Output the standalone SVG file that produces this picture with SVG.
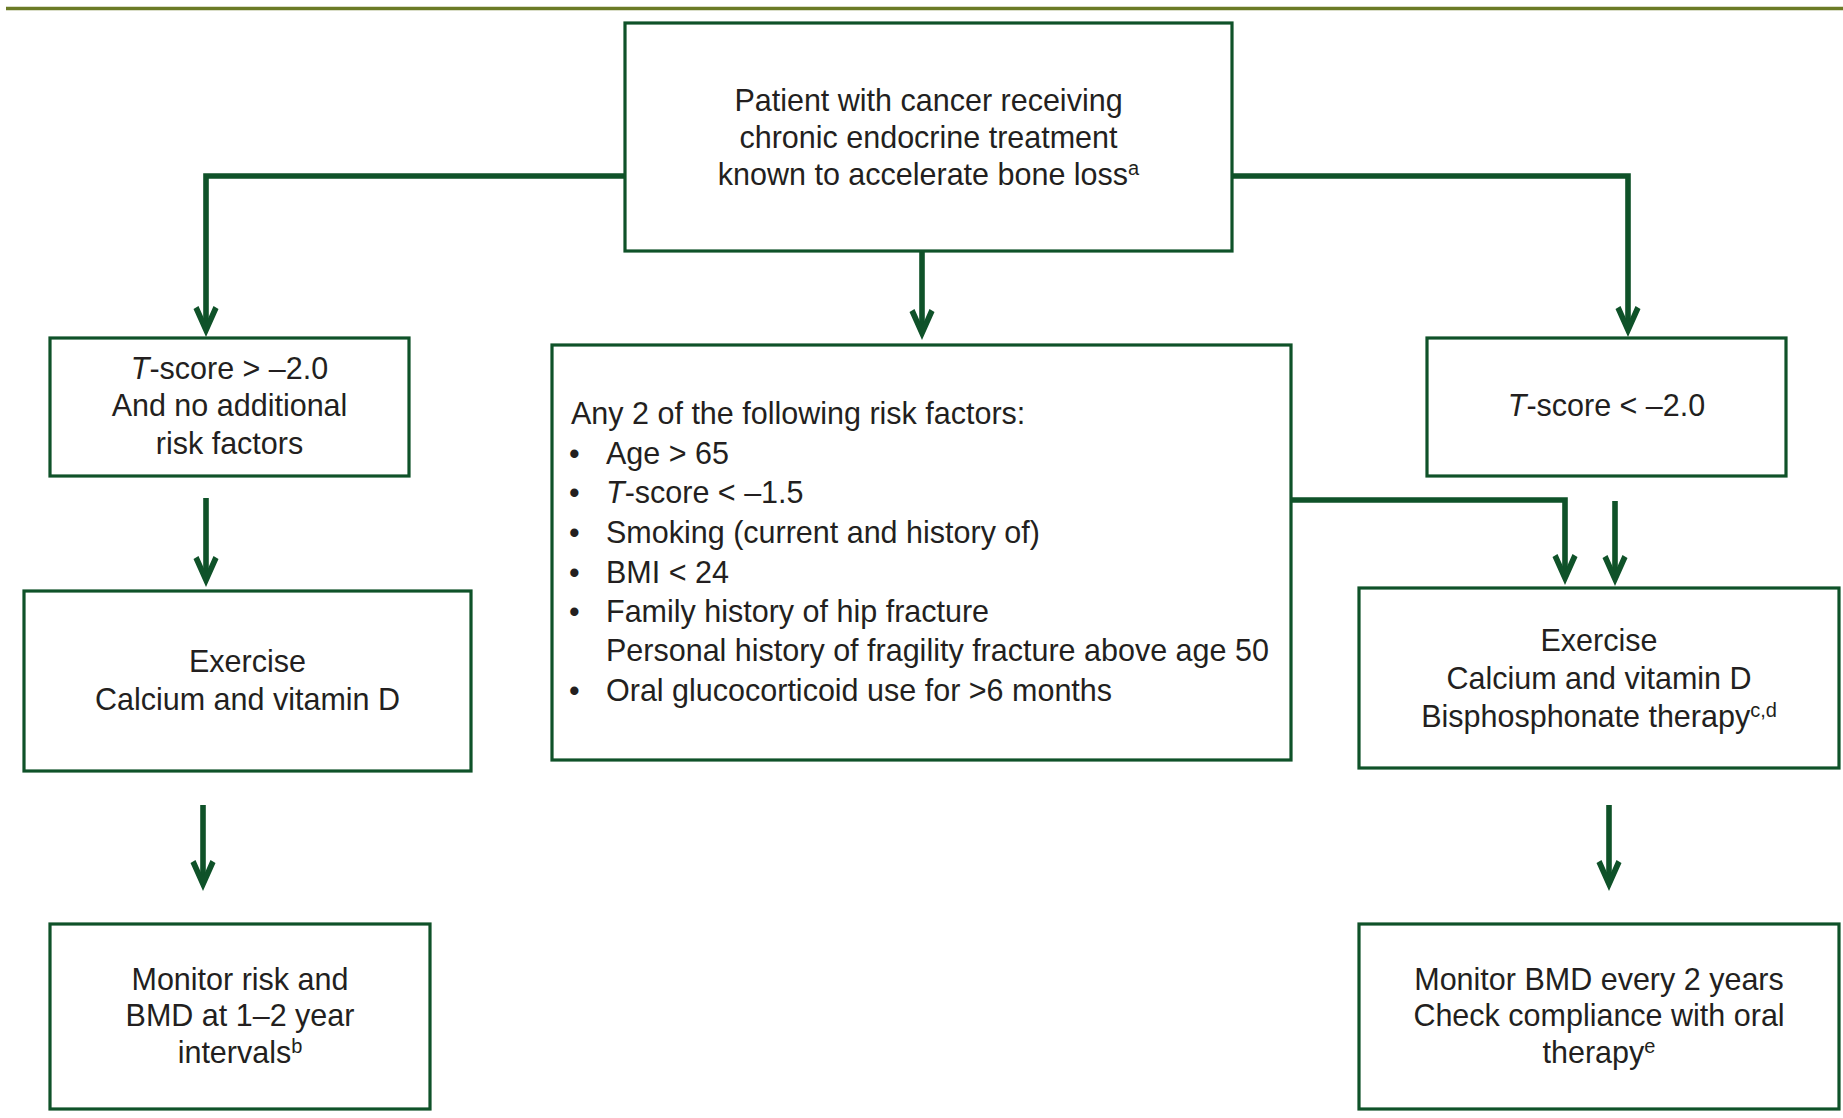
<svg xmlns="http://www.w3.org/2000/svg" width="1843" height="1118" viewBox="0 0 1843 1118">
  <style>
    .box { fill: #ffffff; stroke: #0f5229; stroke-width: 3.2; }
    .conn { fill: none; stroke: #0f5229; stroke-width: 5.6; stroke-linejoin: miter; }
    .t { font-family: "Liberation Sans", Arial, sans-serif; font-size: 30.5px; fill: #231f20; }
    .c { text-anchor: middle; }
    .sup { font-size: 20px; }
    .i { font-style: italic; }
  </style>
  <defs>
    <marker id="arrow" markerUnits="userSpaceOnUse" viewBox="-32 -16 34 32" markerWidth="34" markerHeight="32" refX="-8" refY="0" orient="auto">
      <polygon points="0,0 -28,-12.5 -31,-7.5 -14,0 -31,7.5 -28,12.5" fill="#0f5229"/>
    </marker>
  </defs>
  <rect width="1843" height="1118" fill="#ffffff"/>
  <line x1="6" y1="8.5" x2="1843" y2="8.5" stroke="#6b7b26" stroke-width="3.4"/>

  <g id="connectors">
    <polyline class="conn" points="625,176 206,176 206,329" marker-end="url(#arrow)"/>
    <polyline class="conn" points="1232,176 1628,176 1628,329" marker-end="url(#arrow)"/>
    <polyline class="conn" points="922,251 922,332" marker-end="url(#arrow)"/>
    <polyline class="conn" points="1291,500 1565,500 1565,577" marker-end="url(#arrow)"/>
    <polyline class="conn" points="1615,501 1615,578" marker-end="url(#arrow)"/>
    <polyline class="conn" points="206,498 206,579" marker-end="url(#arrow)"/>
    <polyline class="conn" points="203,805 203,883" marker-end="url(#arrow)"/>
    <polyline class="conn" points="1609,805 1609,883" marker-end="url(#arrow)"/>
  </g>

  <g id="node-start">
    <rect class="box" x="625" y="23" width="607" height="228"/>
    <text class="t c" x="928.5" y="111">Patient with cancer receiving</text>
    <text class="t c" x="928.5" y="148">chronic endocrine treatment</text>
    <text class="t c" x="928.5" y="185">known to accelerate bone loss<tspan class="sup" dy="-10">a</tspan></text>
  </g>

  <g id="node-tscore-high">
    <rect class="box" x="50" y="338" width="359" height="138"/>
    <text class="t c" x="229.5" y="379"><tspan class="i">T</tspan>-score &gt; –2.0</text>
    <text class="t c" x="229.5" y="416">And no additional</text>
    <text class="t c" x="229.5" y="454">risk factors</text>
  </g>

  <g id="node-risk-factors">
    <rect class="box" x="552" y="345" width="739" height="415"/>
    <text class="t" x="571" y="424">Any 2 of the following risk factors:</text>
    <text class="t" x="569" y="464">•</text>
    <text class="t" x="606" y="464">Age &gt; 65</text>
    <text class="t" x="569" y="503">•</text>
    <text class="t" x="606" y="503"><tspan class="i">T</tspan>-score &lt; –1.5</text>
    <text class="t" x="569" y="543">•</text>
    <text class="t" x="606" y="543">Smoking (current and history of)</text>
    <text class="t" x="569" y="583">•</text>
    <text class="t" x="606" y="583">BMI &lt; 24</text>
    <text class="t" x="569" y="622">•</text>
    <text class="t" x="606" y="622">Family history of hip fracture</text>
    <text class="t" x="606" y="661">Personal history of fragility fracture above age 50</text>
    <text class="t" x="569" y="701">•</text>
    <text class="t" x="606" y="701">Oral glucocorticoid use for &gt;6 months</text>
  </g>

  <g id="node-tscore-low">
    <rect class="box" x="1427" y="338" width="359" height="138"/>
    <text class="t c" x="1606.5" y="416"><tspan class="i">T</tspan>-score &lt; –2.0</text>
  </g>

  <g id="node-exercise-left">
    <rect class="box" x="24" y="591" width="447" height="180"/>
    <text class="t c" x="247.5" y="672">Exercise</text>
    <text class="t c" x="247.5" y="710">Calcium and vitamin D</text>
  </g>

  <g id="node-exercise-right">
    <rect class="box" x="1359" y="588" width="480" height="180"/>
    <text class="t c" x="1599" y="651">Exercise</text>
    <text class="t c" x="1599" y="689">Calcium and vitamin D</text>
    <text class="t c" x="1599" y="727">Bisphosphonate therapy<tspan class="sup" dy="-10">c,d</tspan></text>
  </g>

  <g id="node-monitor-left">
    <rect class="box" x="50" y="924" width="380" height="185"/>
    <text class="t c" x="240" y="990">Monitor risk and</text>
    <text class="t c" x="240" y="1026">BMD at 1–2 year</text>
    <text class="t c" x="240" y="1063">intervals<tspan class="sup" dy="-10">b</tspan></text>
  </g>

  <g id="node-monitor-right">
    <rect class="box" x="1359" y="924" width="480" height="185"/>
    <text class="t c" x="1599" y="990">Monitor BMD every 2 years</text>
    <text class="t c" x="1599" y="1026">Check compliance with oral</text>
    <text class="t c" x="1599" y="1063">therapy<tspan class="sup" dy="-10">e</tspan></text>
  </g>
</svg>
